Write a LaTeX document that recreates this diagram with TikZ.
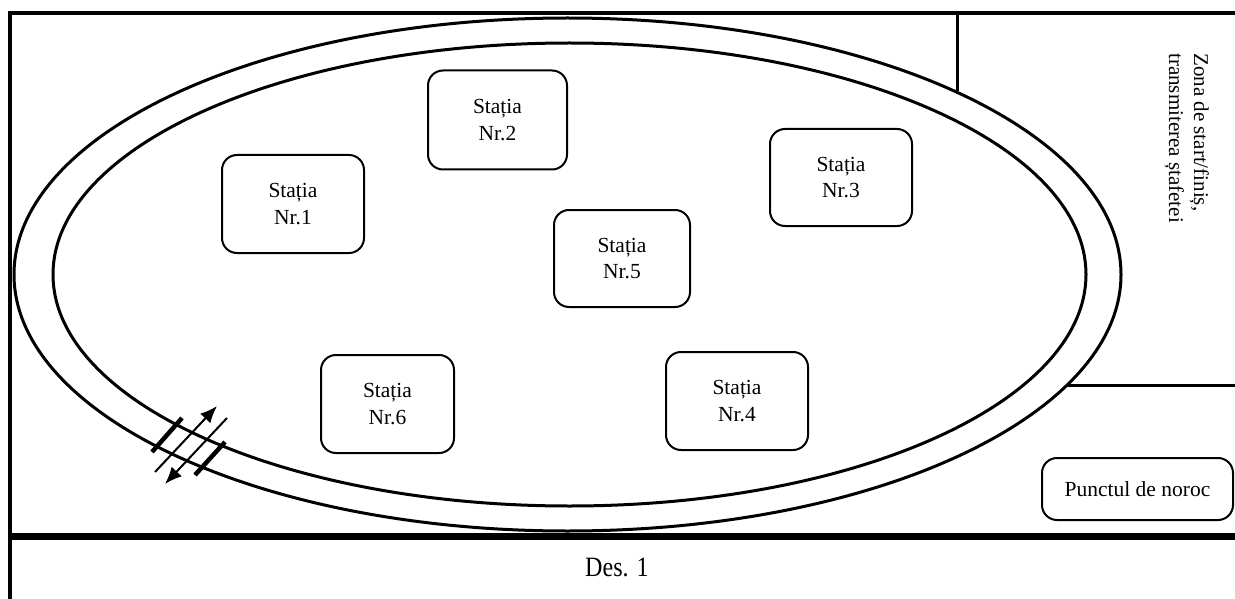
\documentclass[tikz,border=0pt]{standalone}
\usepackage{fontspec}
\setmainfont{Liberation Serif}
\usetikzlibrary{arrows.meta}
\begin{document}
\begin{tikzpicture}[x=1pt,y=-1pt,
  frame/.style={line width=4pt},
  track/.style={line width=3pt},
  stbox/.style={draw,line width=2pt,rounded corners=15pt,align=center,
    font=\fontsize{21.5}{26.5}\selectfont,inner sep=0pt},
  bar/.style={line width=4.5pt},
  dirarrow/.style={line width=2pt,-{Latex[length=17pt,width=14pt]}}]
\useasboundingbox (0,0) rectangle (1235,599);
% frame
\coordinate (tl) at (10,13);
\coordinate (tr) at (1235,13);
\coordinate (bl) at (10,599);
\draw[frame] (tr) -- (tl) -- (bl);
\coordinate (hl) at (8,536);
\coordinate (hr) at (1235,536);
\draw[line width=7pt] (hl) -- (hr);
% track
\draw[track] (567.5,274.5) ellipse [x radius=553.5, y radius=256.5];
\draw[track] (569.5,274.5) ellipse [x radius=516.5, y radius=231.5];
% start/finish zone lines
\coordinate (v1) at (957,13);
\coordinate (v2) at (957,91);
\draw[line width=3pt] (v1) -- (v2);
\coordinate (h1) at (1067,385);
\coordinate (h2) at (1235,385);
\draw[line width=3pt] (h1) -- (h2);
\node[rotate=-90,anchor=north west,align=left,inner sep=0pt,
  font=\fontsize{21}{25}\selectfont] (zona) at (1209,53)
  {Zona de start/finiș,\\transmiterea ștafetei};
% stations
\node[stbox,minimum width=142pt,minimum height=98pt] (s1) at (293,204) {Stația\\Nr.1};
\node[stbox,minimum width=139pt,minimum height=99pt] (s2) at (497.5,120) {Stația\\Nr.2};
\node[stbox,minimum width=142pt,minimum height=97pt] (s3) at (841,177.5) {Stația\\Nr.3};
\node[stbox,minimum width=136pt,minimum height=97pt] (s5) at (622,258.5) {Stația\\Nr.5};
\node[stbox,minimum width=133pt,minimum height=98pt] (s6) at (387.5,404) {Stația\\Nr.6};
\node[stbox,minimum width=142pt,minimum height=98pt] (s4) at (737,401) {Stația\\Nr.4};
\node[stbox,minimum width=191pt,minimum height=62pt] (noroc) at (1137.5,489) {Punctul de noroc};
% relay transfer marks
\coordinate (b1a) at (182,418);
\coordinate (b1b) at (152,452);
\coordinate (b2a) at (225,442);
\coordinate (b2b) at (195,475);
\draw[bar] (b1a) -- (b1b);
\draw[bar] (b2a) -- (b2b);
\coordinate (a1s) at (155,472);
\coordinate (a1e) at (217,406);
\coordinate (a2s) at (227,418);
\coordinate (a2e) at (165,484);
\draw[dirarrow] (a1s) -- (a1e);
\draw[dirarrow] (a2s) -- (a2e);
% caption
\node[font=\fontsize{28}{32}\selectfont,xscale=0.86] (des) at (617,567) {Des. 1};
\end{tikzpicture}
\end{document}
